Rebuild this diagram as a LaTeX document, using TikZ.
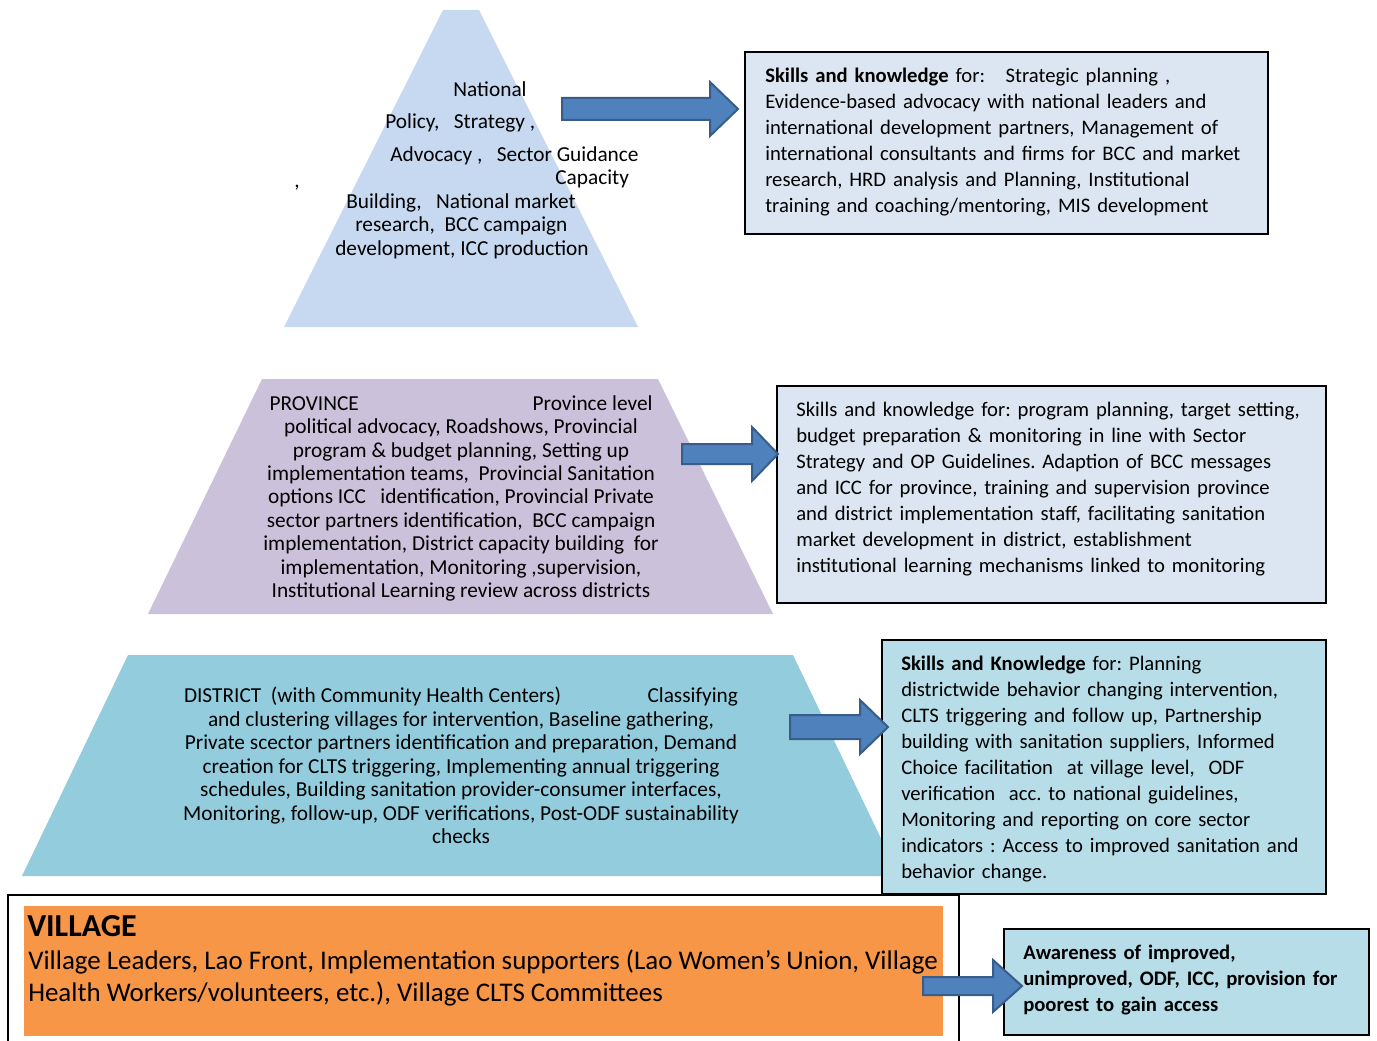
\documentclass[tikz,border=0pt]{standalone}
\usepackage{fontspec}
\setmainfont{Carlito}
\frenchspacing
\definecolor{natfill}{HTML}{C6D9F1}
\definecolor{provfill}{HTML}{CCC1DA}
\definecolor{distfill}{HTML}{93CDDD}
\definecolor{boxa}{HTML}{DCE6F2}
\definecolor{boxb}{HTML}{B7DDE8}
\definecolor{villfill}{HTML}{F79646}
\definecolor{arrfill}{HTML}{4F81BD}
\definecolor{arrdraw}{HTML}{385D8A}
\newcommand{\blockarr}[6]{%
  \draw[blockarrow] (#1,#4-#5) -- (#2,#4-#5) -- (#2,#4-#6) -- (#3,#4) -- (#2,#4+#6) -- (#2,#4+#5) -- (#1,#4+#5) -- cycle;}
\begin{document}
\begin{tikzpicture}[x=0.75pt,y=-0.75pt,
  skillbox/.style={draw=black, line width=1.2pt, inner sep=0pt, anchor=north west},
  boxtext/.style={inner sep=0pt, anchor=base west, text width=430pt, align=left, font=\fontsize{15.5}{19.5}\selectfont},
  pyrtext/.style={align=center, inner sep=0pt, anchor=north, font=\fontsize{16}{17.6}\selectfont},
  nattext/.style={inner sep=0pt, anchor=base west, font=\fontsize{16}{17}\selectfont},
  blockarrow/.style={fill=arrfill, draw=arrdraw, line width=1.5pt, line join=miter}]
\useasboundingbox (0,0) rectangle (1377,1041);
\fill[white] (0,0) rectangle (1377,1041);

% pyramid levels
\fill[natfill] (284,327) -- (443,10) -- (479,10) -- (638,327) -- cycle;
\fill[provfill] (148,614) -- (262,379) -- (658,379) -- (773,614) -- cycle;
\fill[distfill] (22,876) -- (128,655) -- (793,655) -- (899,876) -- cycle;

% national text
\node[nattext, anchor=base] (n1) at (490,97) {National};
\node[nattext] (n2) at (385,129) {Policy,\ \ \ Strategy ,};
\node[nattext] (n3) at (390,162) {Advocacy ,\ \ \ Sector Guidance};
\node[nattext] (n4) at (294,188) {,};
\node[nattext] (n5) at (555,185) {Capacity};
\node[nattext] (n6) at (346,209) {Building,\ \ \ National market};
\node[nattext] (n7) at (355,232) {research,\ \ BCC campaign};
\node[nattext] (n8) at (335,256) {development, ICC production};

% province text
\node[pyrtext] (provtext) at (461,395) {\makebox[287.25pt]{PROVINCE\hfill Province level}\\
political advocacy, Roadshows, Provincial\\
program \& budget planning, Setting up\\
implementation teams,\ \ Provincial Sanitation\\
options ICC\ \ \ identification, Provincial Private\\
sector partners identification,\ \ BCC campaign\\
implementation, District capacity building\ \ for\\
implementation, Monitoring ,supervision,\\
Institutional Learning review across districts};

% district text
\node[pyrtext] (disttext) at (461,687) {\makebox[415.5pt]{DISTRICT\ \ (with Community Health Centers)\hfill Classifying}\\
and clustering villages for intervention, Baseline gathering,\\
Private scector partners identification and preparation, Demand\\
creation for CLTS triggering, Implementing annual triggering\\
schedules, Building sanitation provider-consumer interfaces,\\
Monitoring, follow-up, ODF verifications, Post-ODF sustainability\\
checks};

% skill boxes
\node[skillbox, fill=boxa, minimum width=392.25pt, minimum height=136.5pt] (natbox) at (744,51) {};
\node[boxtext] (natboxtext) at (765,82.5) {\textbf{Skills and knowledge} for:\ \ \ Strategic planning ,\\
Evidence-based advocacy with national leaders and\\
international development partners, Management of\\
international consultants and firms for BCC and market\\
research, HRD analysis and Planning, Institutional\\
training and coaching/mentoring, MIS development};

\node[skillbox, fill=boxa, minimum width=411.75pt, minimum height=162.75pt] (provbox) at (776,385) {};
\node[boxtext] (provboxtext) at (796,416.5) {Skills and knowledge for: program planning, target setting,\\
budget preparation \& monitoring in line with Sector\\
Strategy and OP Guidelines. Adaption of BCC messages\\
and ICC for province, training and supervision province\\
and district implementation staff, facilitating sanitation\\
market development in district, establishment\\
institutional learning mechanisms linked to monitoring};

\node[skillbox, fill=boxb, minimum width=333pt, minimum height=190.5pt] (distbox) at (881,639) {};
\node[boxtext] (distboxtext) at (901,670.5) {\textbf{Skills and Knowledge} for: Planning\\
districtwide behavior changing intervention,\\
CLTS triggering and follow up, Partnership\\
building with sanitation suppliers, Informed\\
Choice facilitation\ \ at village level,\ \ ODF\\
verification\ \ acc. to national guidelines,\\
Monitoring and reporting on core sector\\
indicators : Access to improved sanitation and\\
behavior change.};

% village
\draw[line width=1.2pt] (8,1041) -- (8,895) -- (959,895) -- (959,1041);
\fill[villfill] (24,906) rectangle (943,1036);
\node[inner sep=0pt, anchor=base west, font=\fontsize{24}{26}\selectfont\bfseries] (villtitle) at (27,936) {VILLAGE};
\node[inner sep=0pt, anchor=north west, align=left, font=\fontsize{20.2}{24}\selectfont] (villtext) at (28,950) {Village Leaders, Lao Front, Implementation supporters (Lao Women’s Union, Village\\
Health Workers/volunteers, etc.), Village CLTS Committees};

\node[skillbox, fill=boxb, minimum width=273.75pt, minimum height=79.5pt] (villbox) at (1003,928) {};
\node[boxtext, font=\fontsize{15.5}{19.5}\selectfont\bfseries] (villboxtext) at (1023,959.5) {Awareness of improved,\\
unimproved, ODF, ICC, provision for\\
poorest to gain access};

% block arrows
\blockarr{562}{710}{738}{109}{11}{27}
\blockarr{682}{752}{778}{454}{10}{27}
\blockarr{790}{860}{888}{727}{12}{27}
\blockarr{923}{993}{1022}{986}{9}{26}
\end{tikzpicture}
\end{document}
